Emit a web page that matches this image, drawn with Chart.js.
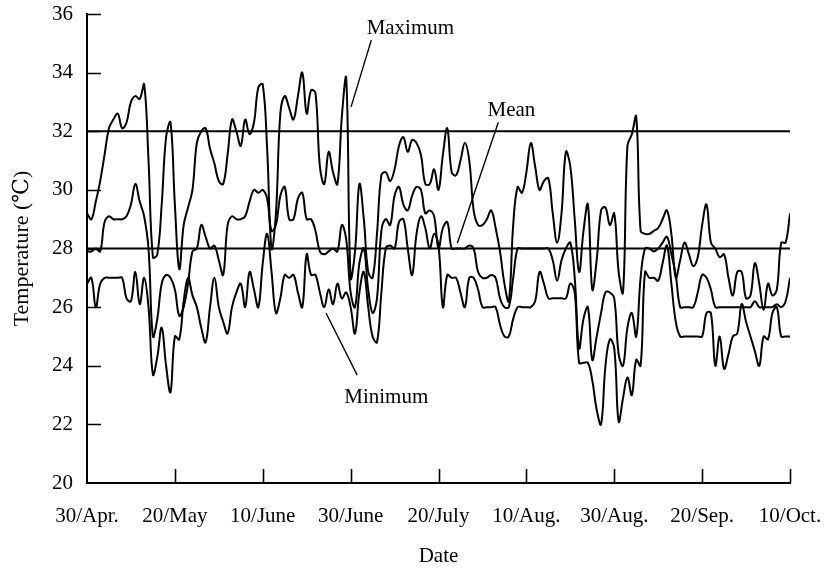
<!DOCTYPE html>
<html>
<head>
<meta charset="utf-8">
<script src="https://cdn.jsdelivr.net/npm/chart.js@4.4.1/dist/chart.umd.min.js"></script>
<style>
html, body { margin: 0; padding: 0; background: #fff; }
#wrap { width: 827px; height: 569px; }
</style>
</head>
<body>
<div id="wrap"><canvas id="tempChart" width="827" height="569"></canvas></div>
<script>
// tick labels along the date axis (one every 20 days)
const dateLabels = ['30/Apr.', '20/May', '10/June', '30/June', '20/July', '10/Aug.', '30/Aug.', '20/Sep.', '10/Oct.'];
const yTickValues = [20, 22, 24, 26, 28, 30, 32, 34, 36];
const refLines = [32, 28];

// daily temperatures (°C), day 0 = 30/Apr.
const maxTemp = [
  29.2, 29.0, 29.6, 30.3, 31.2, 32.1, 32.4, 32.6, 32.1, 32.3,
  33.0, 33.2, 33.1, 33.6, 31.0, 27.7, 27.8, 29.5, 31.8, 32.3,
  29.5, 27.3, 28.8, 29.4, 30.0, 31.6, 32.0, 32.1, 31.4, 30.9,
  30.3, 30.2, 31.2, 32.4, 32.0, 31.5, 32.4, 31.9, 32.3, 33.5,
  33.6, 31.4, 28.0, 29.2, 32.6, 33.2, 32.8, 32.4, 33.2, 34.0,
  32.6, 33.4, 33.3, 30.8, 30.2, 31.3, 30.6, 30.2, 32.5, 33.8,
  27.0, 27.9, 30.2, 29.0, 27.2, 27.0, 28.5, 30.5, 30.6, 30.3,
  30.7, 31.5, 31.8, 31.3, 31.7, 31.6, 31.2, 30.2, 30.2, 30.7,
  30.0, 31.2, 32.1, 30.6, 30.5, 31.0, 31.6, 31.0, 29.3, 28.8,
  28.8, 29.0, 29.3, 28.7, 27.9, 26.8, 26.2, 28.8, 30.1, 29.9,
  30.6, 31.6, 30.8, 30.0, 30.3, 30.4, 29.2, 28.2, 29.2, 31.3,
  30.8, 29.0, 27.2, 28.6, 29.5, 26.6, 27.6, 29.3, 29.4, 28.8,
  29.2, 27.2, 26.5, 31.5, 31.9, 32.5, 28.6, 28.5, 28.5, 28.6,
  28.7, 29.0, 29.3, 28.5, 27.0, 27.6, 28.2, 27.8, 27.4, 27.7,
  28.8, 29.5, 28.2, 28.0, 27.7, 27.8, 27.0, 26.4, 27.2, 27.2,
  26.3, 26.4, 27.5, 26.8, 25.9, 26.8, 26.4, 26.6, 28.2, 28.2,
  29.2
];
const meanTemp = [
  27.9, 27.9, 28.0, 27.9, 28.9, 29.1, 29.0, 29.0, 29.0, 29.1,
  29.5, 30.2, 29.6, 29.1, 28.0, 25.0, 25.6, 26.8, 27.1, 27.0,
  26.6, 25.7, 26.0, 26.8, 27.9, 28.0, 28.8, 28.4, 28.0, 28.1,
  27.6, 27.1, 28.8, 29.1, 29.0, 29.0, 29.1, 29.6, 30.0, 29.9,
  30.0, 29.7, 28.6, 28.8, 29.8, 30.1, 29.0, 29.0, 29.7, 29.9,
  29.0, 29.0, 28.6, 27.9, 27.8, 27.9, 28.0, 27.9, 28.8, 28.3,
  26.5, 26.0, 27.5, 28.0, 26.6, 25.8, 26.3, 28.6, 29.0, 28.8,
  29.8, 30.1, 29.5, 29.3, 29.8, 30.1, 30.0, 29.2, 29.3, 29.1,
  28.0, 28.7, 28.9, 28.0, 28.0, 28.0, 28.0, 28.1, 28.0, 27.2,
  27.0, 27.0, 27.1, 27.0, 26.3, 26.0, 26.0, 27.0, 28.0, 28.0,
  28.0, 28.0, 28.0, 28.0, 28.0, 28.0, 27.6, 26.9, 27.6, 28.0,
  28.2, 27.0, 24.6, 25.6, 26.0, 24.2, 25.0, 25.8, 26.5, 26.5,
  26.3, 24.4, 24.0, 25.3, 25.8, 25.0, 27.0, 28.0, 28.0, 27.9,
  28.0, 28.2, 28.4, 27.8, 27.1, 26.0, 26.0, 26.0, 26.0, 26.5,
  27.1, 27.0, 26.6, 26.0, 26.0, 26.0, 26.0, 26.0, 26.0, 26.0,
  26.0, 26.0, 26.2, 26.0, 26.0, 26.0, 26.0, 26.1, 26.0, 26.2,
  27.0
];
const minTemp = [
  26.8, 27.0, 26.0, 26.8, 27.0, 27.0, 27.0, 27.0, 27.0, 26.3,
  26.2, 27.2, 26.1, 27.0, 26.0, 23.7, 24.3, 25.3, 24.0, 23.1,
  25.0, 24.9, 26.2, 27.0, 26.4, 26.0, 25.3, 24.8, 26.0, 27.0,
  26.0, 25.5, 25.1, 26.0, 26.5, 26.8, 26.0, 27.2, 26.6, 26.0,
  27.5, 28.5, 27.2, 25.8, 26.3, 27.1, 27.0, 27.1, 26.5, 26.0,
  27.8, 27.1, 27.1, 26.5, 26.0, 26.6, 26.1, 26.8, 26.3, 26.5,
  26.0, 25.1, 26.5, 27.2, 26.0, 25.0, 24.8, 26.5, 28.0, 28.1,
  28.0, 28.9, 29.0, 28.0, 27.1, 28.5, 29.1, 28.7, 28.0, 28.5,
  28.1, 26.0, 27.1, 27.0, 27.0, 26.5, 26.0, 27.0, 27.0, 26.6,
  26.0, 26.0, 26.0, 26.0, 25.4, 25.0, 25.0, 25.6, 26.0, 26.0,
  26.0, 26.0, 26.2, 27.2, 26.8, 26.3, 26.3, 26.3, 26.3, 26.3,
  26.8, 26.5, 24.1, 24.1, 24.1, 23.5, 22.5, 22.0, 24.0, 24.9,
  24.6, 22.1, 22.9, 23.6, 23.0, 24.2, 24.0, 27.2, 27.0, 27.0,
  26.9, 27.5, 28.1, 26.8, 25.5, 25.0, 25.0, 25.0, 25.0, 25.0,
  25.0, 25.8, 25.8, 24.0, 25.0, 23.9, 24.4, 25.0, 25.1, 26.1,
  25.5, 25.0, 24.5, 24.0, 25.0, 24.9, 25.8, 26.0, 25.0, 25.0,
  25.0
];

// labels with leader lines, in data units (day, °C)
const notes = [
  { text: 'Maximum', at: [73.6, 35.5], from: [60.1, 32.83], to: [64.7, 35.11] },
  { text: 'Mean', at: [96.6, 32.7], from: [84.3, 28.19], to: [93.6, 32.3] },
  { text: 'Minimum', at: [68.1, 22.93], from: [54.4, 25.8], to: [61.5, 23.68] }
];

const FONT = "'Liberation Serif', 'DejaVu Serif', serif";
const lastDay = maxTemp.length - 1;
const days = maxTemp.map((_, i) => i);

function series(vals) {
  return days.map(d => ({ x: d, y: vals[d] }));
}

const lineStyle = {
  borderColor: '#000',
  borderWidth: 2,
  pointRadius: 0,
  tension: 0.4,
  fill: false
};

const datasets = [
  Object.assign({ label: 'Maximum', data: series(maxTemp) }, lineStyle),
  Object.assign({ label: 'Mean', data: series(meanTemp) }, lineStyle),
  Object.assign({ label: 'Minimum', data: series(minTemp) }, lineStyle)
];
refLines.forEach(v => {
  datasets.push({
    label: 'ref ' + v,
    data: [{ x: 0, y: v }, { x: lastDay, y: v }],
    borderColor: '#000',
    borderWidth: 2,
    pointRadius: 0,
    tension: 0
  });
});

// inward tick marks plus the text labels with their leader lines
const extras = {
  id: 'extras',
  afterDatasetsDraw(chart) {
    const { ctx, chartArea: a, scales: { x, y } } = chart;
    ctx.save();
    ctx.strokeStyle = '#000';
    ctx.lineWidth = 1.6;
    ctx.beginPath();
    yTickValues.slice(1).forEach(v => {
      const py = Math.round(y.getPixelForValue(v)) + 0.5;
      ctx.moveTo(a.left, py);
      ctx.lineTo(a.left + 14, py);
    });
    dateLabels.forEach((_, i) => {
      if (i === 0) return;
      const px = Math.round(x.getPixelForValue(i * 20)) + 0.5;
      ctx.moveTo(px, a.bottom);
      ctx.lineTo(px, a.bottom - 14);
    });
    ctx.stroke();

    ctx.lineWidth = 1.4;
    ctx.fillStyle = '#000';
    ctx.font = '21px ' + FONT;
    ctx.textAlign = 'center';
    ctx.textBaseline = 'middle';
    notes.forEach(n => {
      ctx.beginPath();
      ctx.moveTo(x.getPixelForValue(n.from[0]), y.getPixelForValue(n.from[1]));
      ctx.lineTo(x.getPixelForValue(n.to[0]), y.getPixelForValue(n.to[1]));
      ctx.stroke();
      ctx.fillText(n.text, x.getPixelForValue(n.at[0]), y.getPixelForValue(n.at[1]));
    });
    ctx.restore();
  }
};

new Chart(document.getElementById('tempChart'), {
  type: 'line',
  data: { datasets: datasets },
  options: {
    responsive: false,
    animation: false,
    devicePixelRatio: 1,
    layout: { padding: 0 },
    plugins: {
      legend: { display: false },
      tooltip: { enabled: false }
    },
    scales: {
      x: {
        type: 'linear',
        min: 0,
        max: 160,
        afterFit: s => { s.height = 86; s.paddingLeft = 0; s.paddingRight = 37; },
        afterBuildTicks: s => { s.ticks = dateLabels.map((_, i) => ({ value: i * 20 })); },
        grid: { display: false },
        border: { display: true, color: '#000', width: 2 },
        ticks: {
          color: '#000',
          font: { family: FONT, size: 21 },
          padding: 13,
          maxRotation: 0,
          autoSkip: false,
          callback: v => dateLabels[v / 20]
        },
        title: {
          display: true,
          text: 'Date',
          color: '#000',
          font: { family: FONT, size: 21 },
          padding: { top: 0, bottom: 0 }
        }
      },
      y: {
        min: 20,
        max: 36,
        afterFit: s => { s.width = 87; s.paddingTop = 14; s.paddingBottom = 0; },
        afterBuildTicks: s => { s.ticks = yTickValues.map(v => ({ value: v })); },
        grid: { display: false },
        border: { display: true, color: '#000', width: 2 },
        ticks: {
          color: '#000',
          font: { family: FONT, size: 21 },
          padding: 6
        },
        title: {
          display: true,
          text: 'Temperature (℃)',
          color: '#000',
          font: { family: FONT, size: 22 },
          padding: { top: 9, bottom: 0 }
        }
      }
    }
  },
  plugins: [extras]
});
</script>
</body>
</html>
